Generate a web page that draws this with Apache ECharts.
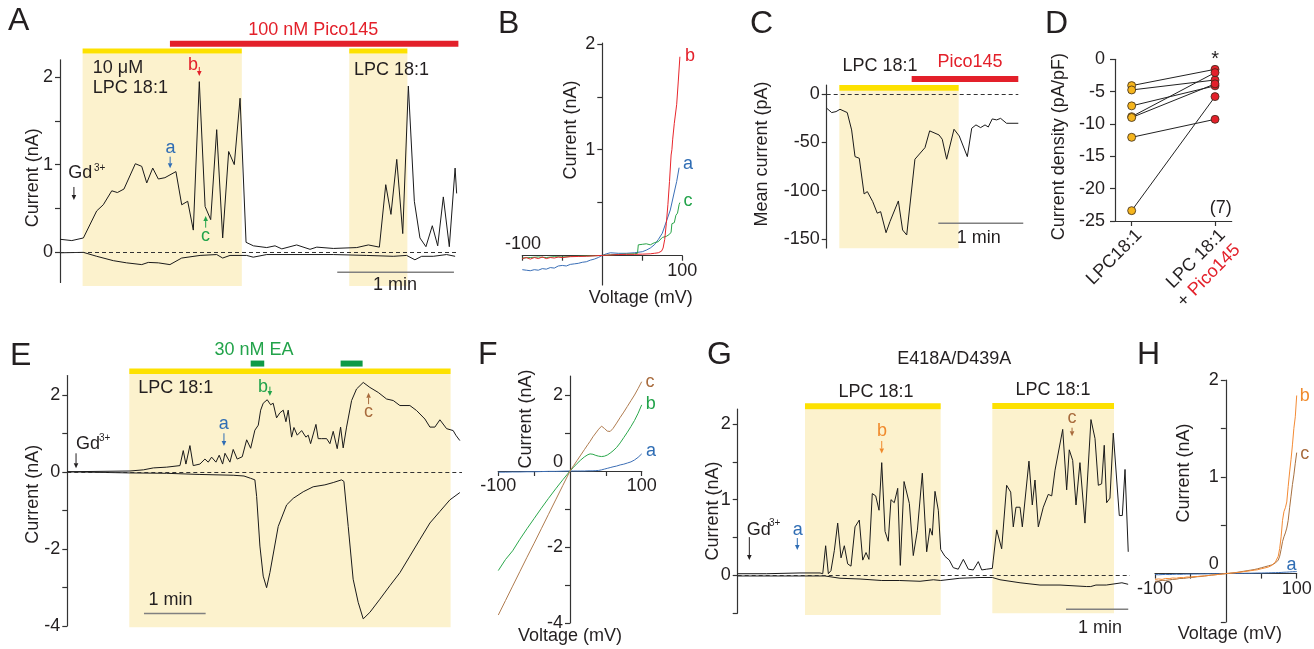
<!DOCTYPE html>
<html><head><meta charset="utf-8">
<script src="https://cdn.jsdelivr.net/npm/echarts@6/dist/echarts.min.js"></script>
<style>html,body{margin:0;padding:0;background:#fff;}#c{width:1314px;height:649px;}</style>
</head><body><div id="c"></div>
<script>
// ---------------- DATA ----------------
// Panel A: time (s), current (nA)
const aTime = [0,6.1,12.1,19.0,22.4,26.8,29.7,33.1,39.0,42.3,44.9,48.0,50.9,54.3,60.0,63.0,66.1,69.0,72.1,75.1,78.0,81.1,84.2,87.3,90.2,93.2,96.3,100.1,107.0,111.3,114.8,122.5,129.4,132.9,141.5,153.6,159.6,165.3,168.6,171.3,174.3,177.4,180.3,183.4,186.3,189.4,192.7,195.5,198.4,201.5,204.5,205.3];
const aOutward = [0.145,0.13,0.16,0.47,0.54,0.70,0.68,0.72,1.01,0.98,0.79,0.96,0.835,0.85,0.92,0.54,0.58,0.25,1.95,0.52,0.37,1.40,0.16,1.15,1.0,1.76,0.11,0.07,0.05,0.07,0.035,0.08,0.03,0.055,0.04,0.05,0.08,0.055,0.77,0.43,1.06,0.21,1.90,0.58,0.16,0.06,0.30,0.07,0.63,0.06,0.96,0.67];
const aTimeIn = [0,12.1,19,27.6,34.5,42.3,45.7,50.9,56.9,63,72.5,81.1,84.2,88,96.6,100,107,124.2,141.5,158.7,172.5,179.4,183.7,187.2,193.2,200.1,204.5];
const aInward = [-0.01,-0.005,-0.05,-0.1,-0.125,-0.145,-0.12,-0.125,-0.145,-0.07,-0.04,-0.03,-0.07,-0.04,-0.04,-0.06,-0.03,-0.03,-0.03,-0.04,-0.05,-0.04,-0.09,-0.05,-0.05,-0.03,-0.05];
const aYTicks = [0,0.5,1,1.5,2], aYLabels = [0,1,2];

// Panel B: I-V curves (mV, nA)
const bVb = [-100,-95,-90,-85,-80,-75,-70,-65,-60,-55,-50,-40,-30,-20,-10,0,10,20,30,40,50,60,65,70,72,74,76,78,80,82,84,86,87,88,90,91,93,95,97];
const bIb = [-0.03,-0.02,-0.035,-0.02,-0.03,-0.015,-0.03,-0.02,-0.025,-0.015,-0.02,-0.012,-0.01,-0.008,-0.004,0,0.004,0.008,0.01,0.01,0.012,0.015,0.02,0.025,0.03,0.04,0.07,0.15,0.3,0.48,0.7,0.95,1.0,1.1,1.25,1.31,1.43,1.65,1.88];
const bVa = [-100,-95,-90,-85,-80,-75,-70,-65,-60,-55,-50,-45,-40,-35,-30,-25,-20,-15,-10,-5,0,5,10,20,30,40,50,55,60,65,70,75,80,85,90,93,96];
const bIa = [-0.135,-0.14,-0.145,-0.135,-0.14,-0.125,-0.13,-0.115,-0.12,-0.1,-0.095,-0.1,-0.085,-0.08,-0.075,-0.065,-0.06,-0.045,-0.035,-0.02,0,0.015,0.025,0.02,0.02,0.025,0.035,0.05,0.07,0.1,0.15,0.21,0.32,0.43,0.6,0.7,0.83];
const bVc = [-100,-90,-80,-70,-60,-50,-40,-30,-20,-10,0,10,20,30,40,44,45,50,55,60,65,70,75,80,84,86,87,90,92,94,96,97];
const bIc = [-0.025,-0.02,-0.015,-0.02,-0.012,-0.015,-0.01,-0.008,-0.005,-0.003,0,0.005,0.01,0.012,0.015,0.02,0.1,0.105,0.11,0.1,0.12,0.13,0.17,0.18,0.2,0.22,0.3,0.31,0.38,0.4,0.48,0.5];

// Panel C: mean current (pA) vs time (s)
const cTime = [0,3.5,6.6,9.4,14.5,17.6,20,23,26.4,28.7,32.5,35.7,38.1,41.9,44.7,50.6,53.6,56.5,62.3,69.4,72.7,79.3,81.6,84.7,89.9,93.6,99.3,102.4,105.4,108.7,111.8,114.1,116.9,120,122.8,127,135.3];
const cMean = [-14.5,-19,-18,-15.6,-19,-37,-64.7,-66.4,-103.4,-101,-111.4,-123.4,-121.8,-143.6,-132,-110.7,-140.8,-146,-67.4,-55.4,-38,-42.2,-46.7,-67.4,-36.3,-43.3,-64.7,-35.3,-31.8,-34.6,-31.8,-34,-25.6,-26.6,-25,-30.1,-30.1];
const cYTicks = [0,-50,-100,-150];

// Panel D: paired current densities (pA/pF)
const dCategories = ['LPC18:1', 'LPC 18:1', '+ ', 'Pico145'];
const dLpc  = [-4.07,-4.74,-7.2,-8.87,-9.0,-12.06,-23.4];
const dPico = [-1.55,-3.2,-4.1,-2.06,-3.8,-9.28,-5.77];

// Panel E: time (s), current (nA)
const eTime = [0,61,74,83.7,96.7,109.6,112.8,115.4,119.3,122.5,129,133.9,137.1,140.4,144.6,147.8,151.1,153.4,158.2,161.4,165.3,170.2,174.5,178.4,182.5,185.8,188.1,190.6,194.5,197.8,200.3,203.6,206.8,210.1,212.7,214.9,218.2,220.5,223.7,228,232.1,234.4,236.7,241.9,244.1,247.4,252.3,255.5,258.7,262.6,265.9,268.4,271.7,276.6,281.4,287.9,294.4,302.5,310.6,317.1,323.6,333.3,339.8,347.9,352.8,357.6,362.5,369,375.4,378,381.9];
const eOutward = [0,0.02,0.05,0.1,0.12,0.16,0.55,0.2,0.68,0.16,0.2,0.33,0.25,0.38,0.25,0.43,0.2,0.48,0.25,0.58,0.33,0.39,0.83,0.61,1.08,1.21,1.6,1.78,1.87,1.74,1.78,1.4,1.53,1.6,1.3,1.6,0.9,1.15,0.95,1.07,0.9,0.95,0.73,1.23,0.86,0.86,0.86,0.73,1.05,0.6,1.16,0.62,1.16,1.85,2.15,2.32,2.19,2.06,1.89,1.85,1.72,1.72,1.59,1.37,1.16,1.16,1.35,1.12,1.07,0.95,0.81];
const eTimeIn = [0,61,96.7,129,161.4,171.9,178.4,182.5,184.2,187.4,190.6,193.9,197.1,205.2,213.4,219.8,229.5,239.2,250.6,258.7,266.8,269.1,273.3,278.1,283,287.9,294.4,304.1,313.8,323.6,333.3,343,352.8,362.5,372.2,381.9];
const eInward = [0,-0.03,-0.04,-0.07,-0.09,-0.11,-0.17,-0.21,-0.64,-1.93,-2.71,-3.01,-2.62,-1.42,-0.86,-0.69,-0.52,-0.39,-0.34,-0.28,-0.21,-0.25,-1.42,-2.79,-3.39,-3.82,-3.65,-3.31,-2.96,-2.62,-2.19,-1.76,-1.33,-1.03,-0.73,-0.54];

// Panel F: I-V (mV, nA)
const fV  = [-100,-90,-80,-70,-60,-50,-40,-30,-20,-10,0,5,10,15,20,25,28,32,36,40,44,48,52,56,60,65,70,75,80,85,90,95,100];
const fIc = [-3.79,-3.41,-3.03,-2.65,-2.27,-1.9,-1.52,-1.14,-0.76,-0.38,0,0.14,0.28,0.42,0.56,0.7,0.78,0.9,1.0,1.1,1.18,1.12,1.05,1.04,1.12,1.26,1.41,1.55,1.7,1.85,2.0,2.17,2.35];
const fIb = [-2.62,-2.33,-2.1,-1.8,-1.52,-1.25,-0.98,-0.72,-0.47,-0.23,0,0.1,0.2,0.29,0.37,0.43,0.45,0.44,0.41,0.39,0.38,0.39,0.42,0.47,0.53,0.62,0.74,0.88,1.02,1.17,1.33,1.52,1.74];
const fIa = [-0.03,-0.03,-0.025,-0.025,-0.02,-0.02,-0.015,-0.01,-0.01,-0.005,0,0,0,0,0,0.005,0.005,0.005,0.01,0.015,0.03,0.05,0.07,0.09,0.11,0.13,0.16,0.18,0.21,0.24,0.29,0.36,0.45];

// Panel G: time (s), current (nA)
const gTime = [0,27.9,60,79.3,81.9,84.7,87.3,89.8,93.1,96.3,99.5,102.7,105.9,109.1,113,117.1,120.4,123.6,126.4,129.6,132.9,136.1,138.7,141.9,145,147.6,150.8,154.1,156.6,160.2,165.3,169.1,173,177.8,182,185.2,187.4,190,193.2,195.5,199.6,203.8,207.6,212.4,217.3,222.1,226.9,231.7,235,239.8,245.2,246.1,249.4,254.2,259,262.9,265.4,268,271.9,274.1,280.5,283.7,286.3,289.5,294.3,299.1,302.4,305.6,313,316.8,319.3,322.6,325.8,329.6,334.4,340.2,344.1,347.3,350.5,353,355.3,358.5,361.7,367.5,370.4,373,376.1];
const gOutward = [0.02,0.02,0.03,0.03,0.02,0.39,0.02,0.06,0.33,0.69,0.23,0.39,0.15,0.12,0.64,0.73,0.2,0.3,0.21,1.08,1.05,0.86,1.49,0.58,0.45,1.0,0.96,1.15,0.13,1.24,0.95,0.26,0.59,1.35,0.31,0.62,0.53,1.11,0.86,0.34,0.25,0.2,0.1,0.08,0.21,0.08,0.07,0.18,0.07,0.08,0.09,0.2,0.6,0.35,1.19,1.1,0.64,0.9,0.9,0.64,1.51,0.93,1.26,0.64,0.9,1.07,1.05,1.39,1.93,1.13,1.66,1.52,0.93,1.49,0.69,2.06,1.81,1.19,1.21,1.72,0.96,1.02,1.88,0.79,0.79,1.4,0.31];
const gTimeIn = [0,84,98.5,117.8,138.7,156,175.6,188.4,195.5,214,233.4,245.2,252.6,271.9,291.1,310.4,336.1,340,345,355,370,376];
const gInward = [-0.01,-0.01,-0.04,-0.05,-0.07,-0.07,-0.08,-0.06,-0.07,-0.04,-0.03,-0.03,-0.06,-0.1,-0.13,-0.13,-0.15,-0.15,-0.13,-0.13,-0.1,-0.12];

// Panel H: I-V (mV, nA)
const hV  = [-100,-95,-90,-85,-80,-75,-70,-65,-60,-55,-50,-45,-40,-35,-30,-25,-20,-15,-10,-5,0,5,10,15,20,25,30,35,40,45,50,55,60,65,70,72,74,76,78,80,82,84,86,88,90,92,94,96,98,100];
const hIb = [-0.06,-0.055,-0.06,-0.05,-0.052,-0.045,-0.048,-0.04,-0.042,-0.035,-0.036,-0.03,-0.03,-0.025,-0.024,-0.02,-0.015,-0.012,-0.008,-0.004,0,0.003,0.006,0.01,0.014,0.02,0.024,0.03,0.035,0.04,0.05,0.058,0.068,0.085,0.12,0.14,0.18,0.26,0.38,0.55,0.64,0.68,0.74,0.9,1.05,1.18,1.33,1.5,1.62,1.84];
const hIc = [-0.08,-0.075,-0.07,-0.07,-0.065,-0.06,-0.058,-0.05,-0.05,-0.045,-0.04,-0.038,-0.032,-0.03,-0.025,-0.02,-0.016,-0.012,-0.008,-0.004,0,0.004,0.008,0.012,0.018,0.024,0.03,0.036,0.042,0.05,0.06,0.07,0.08,0.09,0.11,0.12,0.14,0.18,0.25,0.33,0.38,0.42,0.47,0.55,0.68,0.8,0.92,1.02,1.14,1.25];
const hIa = [-0.01,-0.012,-0.01,-0.008,-0.01,-0.008,-0.006,-0.008,-0.006,-0.005,-0.005,-0.004,-0.004,-0.003,-0.003,-0.002,-0.002,-0.001,-0.001,0,0,0.001,0.002,0.002,0.003,0.003,0.004,0.004,0.005,0.006,0.006,0.007,0.008,0.009,0.01,0.01,0.011,0.012,0.012,0.013,0.014,0.015,0.015,0.016,0.017,0.018,0.019,0.02,0.02,0.021];

// ---------------- STYLE ----------------
const FONT = '"Liberation Sans", Arial, Helvetica, sans-serif';
const TXT = '#231f20', AX = '#333333';
const SHADE = '#fcf2cd', YEL = '#fde100', RED = '#e3202a', GBAR = '#0f9a47';
const BLUE = '#2f6db4', GREEN = '#22a34a', BROWN = '#a86b3d', ORANGE = '#f08a2c', DYEL = '#f5b51d';

function zip(xs, ys) { return xs.map((x, i) => [x, ys[i]]); }

function trace(gi, xs, ys, color, zero) {
  const s = {type: 'line', xAxisIndex: gi, yAxisIndex: gi, data: zip(xs, ys), symbol: 'none', showSymbol: false,
    lineStyle: {color: color, width: 1}, itemStyle: {color: color}, z: 3, silent: true, animation: false};
  if (zero) s.markLine = {silent: true, symbol: ['none', 'none'], label: {show: false}, animation: false,
    lineStyle: {color: AX, type: [4, 3], width: 1}, data: [{yAxis: 0}]};
  return s;
}

function annot(gi, list, z) {
  return {
    type: 'custom', xAxisIndex: gi, yAxisIndex: gi, silent: true, clip: false, z: z, animation: false,
    data: list.map(a => [a.x !== undefined ? a.x : a.x1, a.y !== undefined ? a.y : a.y1]),
    renderItem: function (params, api) {
      const a = list[params.dataIndex];
      if (a.k === 'shade') {
        const p1 = api.coord([a.x1, a.y2]), p2 = api.coord([a.x2, a.y1]);
        return {type: 'rect', shape: {x: p1[0], y: p1[1], width: p2[0] - p1[0], height: p2[1] - p1[1]}, style: {fill: a.c || SHADE}};
      }
      if (a.k === 'bar') {
        const p1 = api.coord([a.x1, a.y]), p2 = api.coord([a.x2, a.y]);
        return {type: 'rect', shape: {x: p1[0], y: p1[1] - a.h / 2, width: p2[0] - p1[0], height: a.h}, style: {fill: a.c}};
      }
      if (a.k === 'hline') {
        const p1 = api.coord([a.x1, a.y]), p2 = api.coord([a.x2, a.y]);
        return {type: 'line', shape: {x1: p1[0], y1: p1[1], x2: p2[0], y2: p2[1]}, style: {stroke: a.c || '#808080', lineWidth: a.w || 1.5}};
      }
      if (a.k === 'text') {
        const p = api.coord([a.x, a.y]);
        return {type: 'text', x: p[0], y: p[1], style: {text: a.t, fill: a.c || TXT, fontSize: a.s || 18, fontFamily: FONT,
          align: a.al || 'center', verticalAlign: 'middle', textAlign: a.al || 'center', textVerticalAlign: 'middle'}};
      }
      if (a.k === 'arrow') {
        const p = api.coord([a.x, a.y]);
        const d = a.up ? -1 : 1, hh = 5, hw = 2.3;
        return {type: 'group', children: [
          {type: 'line', shape: {x1: p[0], y1: p[1] - d * a.len, x2: p[0], y2: p[1] - d * hh}, style: {stroke: a.c || TXT, lineWidth: 1}},
          {type: 'polygon', shape: {points: [[p[0], p[1]], [p[0] - hw, p[1] - d * hh], [p[0] + hw, p[1] - d * hh]]}, style: {fill: a.c || TXT}}
        ]};
      }
      return null;
    }
  };
}

// y axis; offset < 0 moves the axis into the grid (used to put it on V = 0)
function yAx(gi, min, max, ticks, labels, name, gap, pad, offset, fmt, rich, margin) {
  const lbl = {show: true, customValues: labels, fontSize: 18, color: TXT, fontFamily: FONT, margin: margin || 7};
  if (fmt) lbl.formatter = fmt;
  if (rich) lbl.rich = rich;
  return {gridIndex: gi, type: 'value', min: min, max: max, position: 'left', offset: offset || 0,
    axisLine: {show: true, onZero: false, lineStyle: {color: AX, width: 1.2}},
    axisTick: {show: true, customValues: ticks, length: 5, lineStyle: {color: AX, width: 1.2}},
    axisLabel: lbl, splitLine: {show: false}, minorTick: {show: false}, minorSplitLine: {show: false},
    name: name, nameLocation: 'middle', nameGap: gap, nameMoveOverlap: false,
    nameTextStyle: {fontSize: 18, color: TXT, fontFamily: FONT, padding: pad}};
}
function xHidden(gi, min, max) {
  return {gridIndex: gi, type: 'value', min: min, max: max, show: false, splitLine: {show: false}};
}
function xIV(gi, ticks, labels, name, gap, pad, offset) {
  return {gridIndex: gi, type: 'value', min: -100, max: 100, position: 'bottom', offset: offset,
    axisLine: {show: true, onZero: false, lineStyle: {color: AX, width: 1.2}},
    axisTick: {show: true, customValues: ticks, length: 5, lineStyle: {color: AX, width: 1.2}},
    axisLabel: {show: true, customValues: labels, fontSize: 18, color: TXT, fontFamily: FONT, margin: 6},
    splitLine: {show: false}, name: name, nameLocation: 'middle', nameGap: gap, nameMoveOverlap: false,
    nameTextStyle: {fontSize: 18, color: TXT, fontFamily: FONT, padding: pad}};
}

const zeroUp = (p) => ({z: {fontSize: 18, color: TXT, fontFamily: FONT, padding: [0, 0, p, 0]}});
const fmtZero = v => (v === 0 ? '{z|0}' : String(v));

// ---------------- ANNOTATIONS ----------------
const annA0 = [
  {k: 'shade', x1: 11.7, x2: 94.1, y1: -0.389, y2: 2.273},
  {k: 'shade', x1: 149.7, x2: 179.8, y1: -0.389, y2: 2.273}];
const annA = [
  {k: 'bar', x1: 11.7, x2: 94.1, y: 2.302, h: 5, c: YEL},
  {k: 'bar', x1: 149.7, x2: 179.8, y: 2.302, h: 5, c: YEL},
  {k: 'bar', x1: 56.9, x2: 206.2, y: 2.383, h: 6, c: RED},
  {k: 'text', x: 131.1, y: 2.54, t: '100 nM Pico145', c: RED},
  {k: 'text', x: 17.0, y: 2.11, t: '10 μM', al: 'left'},
  {k: 'text', x: 17.0, y: 1.88, t: 'LPC 18:1', al: 'left'},
  {k: 'text', x: 152.2, y: 2.08, t: 'LPC 18:1', al: 'left'},
  {k: 'text', x: 4.3, y: 0.90, t: 'Gd', al: 'left'},
  {k: 'text', x: 17.6, y: 0.96, t: '3+', al: 'left', s: 10},
  {k: 'arrow', x: 7.2, y: 0.595, len: 13},
  {k: 'text', x: 57.2, y: 1.19, t: 'a', c: BLUE},
  {k: 'arrow', x: 57.0, y: 0.958, len: 11.6, c: BLUE},
  {k: 'text', x: 68.8, y: 2.14, t: 'b', c: RED},
  {k: 'arrow', x: 72.1, y: 2.015, len: 9, c: RED},
  {k: 'text', x: 75.3, y: 0.183, t: 'c', c: GREEN},
  {k: 'arrow', x: 75.4, y: 0.412, len: 11.7, c: GREEN, up: true},
  {k: 'hline', x1: 143.5, x2: 203.9, y: -0.232},
  {k: 'text', x: 173.4, y: -0.378, t: '1 min'}];
const annB = [
  {k: 'text', x: -99.1, y: 0.11, t: '-100'},
  {k: 'text', x: 109.6, y: 1.89, t: 'b', c: RED},
  {k: 'text', x: 107, y: 0.86, t: 'a', c: BLUE},
  {k: 'text', x: 107, y: 0.51, t: 'c', c: GREEN}];
const annC0 = [{k: 'shade', x1: 8.9, x2: 93.2, y1: -159.8, y2: 3.8}];
const annC = [
  {k: 'bar', x1: 8.9, x2: 93.2, y: 6.7, h: 5.7, c: YEL},
  {k: 'bar', x1: 60, x2: 135.3, y: 15.8, h: 6, c: RED},
  {k: 'text', x: 37.6, y: 29.6, t: 'LPC 18:1'},
  {k: 'text', x: 101.2, y: 33.8, t: 'Pico145', c: RED},
  {k: 'hline', x1: 78.8, x2: 138.8, y: -133.9},
  {k: 'text', x: 107.4, y: -149.4, t: '1 min'}];
const annD = [
  {k: 'text', x: 1, y: 0.0, t: '*', s: 20},
  {k: 'text', x: 1.069, y: -23.04, t: '(7)'}];
const annE0 = [{k: 'shade', x1: 60.3, x2: 372.9, y1: -4.04, y2: 2.54}];
const annE = [
  {k: 'bar', x1: 60.3, x2: 372.9, y: 2.61, h: 5.7, c: YEL},
  {k: 'bar', x1: 178.4, x2: 191.6, y: 2.81, h: 6, c: GBAR},
  {k: 'bar', x1: 265.9, x2: 287.3, y: 2.81, h: 6, c: GBAR},
  {k: 'text', x: 181.6, y: 3.16, t: '30 nM EA', c: GREEN},
  {k: 'text', x: 69, y: 2.17, t: 'LPC 18:1', al: 'left'},
  {k: 'text', x: 8.5, y: 0.73, t: 'Gd', al: 'left'},
  {k: 'text', x: 30.8, y: 0.87, t: '3+', al: 'left', s: 10},
  {k: 'arrow', x: 8.5, y: 0.09, len: 15},
  {k: 'text', x: 152.1, y: 1.24, t: 'a', c: BLUE},
  {k: 'arrow', x: 152.4, y: 0.67, len: 12.7, c: BLUE},
  {k: 'text', x: 190.3, y: 2.21, t: 'b', c: GREEN},
  {k: 'arrow', x: 197.1, y: 1.97, len: 9.3, c: GREEN},
  {k: 'text', x: 293.1, y: 1.55, t: 'c', c: BROWN},
  {k: 'arrow', x: 293.1, y: 2.05, len: 11.3, c: BROWN, up: true},
  {k: 'hline', x1: 74.6, x2: 134.6, y: -3.68},
  {k: 'text', x: 100.4, y: -3.34, t: '1 min'}];
const annF = [
  {k: 'text', x: 111.6, y: 2.33, t: 'c', c: BROWN},
  {k: 'text', x: 112.6, y: 1.76, t: 'b', c: GREEN},
  {k: 'text', x: 113, y: 0.53, t: 'a', c: BLUE}];
const annG0 = [
  {k: 'shade', x1: 64.8, x2: 195.5, y1: -0.527, y2: 2.196},
  {k: 'shade', x1: 245.2, x2: 362.4, y1: -0.504, y2: 2.196}];
const annG = [
  {k: 'bar', x1: 64.8, x2: 195.5, y: 2.235, h: 6, c: YEL},
  {k: 'bar', x1: 245.2, x2: 362.4, y: 2.24, h: 6, c: YEL},
  {k: 'text', x: 208.6, y: 2.857, t: 'E418A/D439A'},
  {k: 'text', x: 133.2, y: 2.43, t: 'LPC 18:1'},
  {k: 'text', x: 303.6, y: 2.45, t: 'LPC 18:1'},
  {k: 'text', x: 8.7, y: 0.6, t: 'Gd', al: 'left'},
  {k: 'text', x: 30.1, y: 0.69, t: '3+', al: 'left', s: 10},
  {k: 'arrow', x: 11.2, y: 0.2, len: 23},
  {k: 'text', x: 57.8, y: 0.6, t: 'a', c: BLUE},
  {k: 'arrow', x: 57.4, y: 0.333, len: 12, c: BLUE},
  {k: 'text', x: 139, y: 1.91, t: 'b', c: ORANGE},
  {k: 'arrow', x: 138.7, y: 1.61, len: 12.6, c: ORANGE},
  {k: 'text', x: 322, y: 2.08, t: 'c', c: BROWN},
  {k: 'arrow', x: 322, y: 1.84, len: 8.5, c: BROWN},
  {k: 'hline', x1: 316.2, x2: 376.1, y: -0.451},
  {k: 'text', x: 349, y: -0.703, t: '1 min'}];
const annH = [
  {k: 'text', x: 111.5, y: 1.83, t: 'b', c: ORANGE},
  {k: 'text', x: 111.5, y: 1.24, t: 'c', c: BROWN},
  {k: 'text', x: 92.7, y: 0.089, t: 'a', c: BLUE}];

// ---------------- OPTION ----------------
const grids = [
  {left: 60, top: 59.8, width: 398, height: 222.7},
  {left: 522.3, top: 43, width: 160, height: 242},
  {left: 826.7, top: 85, width: 191.6, height: 163},
  {left: 1115, top: 59.3, width: 116.7, height: 161.7},
  {left: 67.3, top: 375.5, width: 394.7, height: 250.3},
  {left: 498.3, top: 376, width: 143.4, height: 247},
  {left: 737.7, top: 409, width: 392.3, height: 204},
  {left: 1155, top: 380, width: 141.7, height: 242}
].map(g => Object.assign({show: false, containLabel: false, outerBoundsMode: 'none'}, g));

const dRich = {k: {fontSize: 18, color: TXT, fontFamily: FONT, lineHeight: 21}, r: {fontSize: 18, color: RED, fontFamily: FONT, lineHeight: 21}};
const xAxes = [
  xHidden(0, 0, 206),
  xIV(1, [-100, -50, 50, 100], [100], 'Voltage (mV)', 33, [0, 0, 0, 77], -29.3),
  xHidden(2, 0, 135.3),
  {gridIndex: 3, type: 'value', min: -0.2, max: 1.2, position: 'bottom',
    axisLine: {show: true, onZero: false, lineStyle: {color: AX, width: 1.2}},
    axisTick: {show: true, customValues: [0, 1], length: 5, lineStyle: {color: AX, width: 1.2}},
    axisLabel: {show: true, customValues: [0, 1], rotate: 45, margin: 4, verticalAlign: 'top', fontSize: 18, color: TXT, fontFamily: FONT,
      formatter: v => (v === 0 ? '{k|' + dCategories[0] + '}' : '{k|' + dCategories[1] + '}\n{k|' + dCategories[2] + '}{r|' + dCategories[3] + '}'),
      rich: dRich},
    splitLine: {show: false}},
  xHidden(4, 0, 384),
  xIV(5, [-100, -50, 50, 100], [-100, 100], 'Voltage (mV)', 156, [0, 0, 0, 0], -152),
  xHidden(6, 0, 377.8),
  xIV(7, [-100, -50, 50, 100], [-100, 100], 'Voltage (mV)', 51, [0, 0, 0, 8], -48.4)
];
const yAxes = [
  yAx(0, -0.35, 2.2, aYTicks, aYLabels, 'Current (nA)', 18, [0, 13, 0, 0], 0),
  yAx(1, -0.28, 2.01, [0.5, 1, 1.5, 2], [1, 2], 'Current (nA)', 22, [0, 0, 0, 68], -80),
  yAx(2, -159.5, 9.6, cYTicks, cYTicks, 'Mean current (pA)', 56, [0, 0, 0, 25], 0),
  yAx(3, -25, 0, [0, -5, -10, -15, -20, -25], [0, -5, -10, -15, -20, -25], 'Current density (pA/pF)', 47, [0, 13, 0, 0], 0, null, null, 10),
  yAx(4, -4, 2.5, [-4, -3, -2, -1, 0, 1, 2], [-4, -2, 0, 2], 'Current (nA)', 25, [0, 0, 0, 13], 0),
  yAx(5, -4, 2.5, [-4, -3, -2, -1, 1, 2], [-4, -2, 0, 2], 'Current (nA)', 35, [0, 0, 0, 161], -71.7, fmtZero, zeroUp(17)),
  yAx(6, -0.5, 2.2, [-0.5, 0, 0.5, 1, 1.5, 2], [0, 1, 2], 'Current (nA)', 16, [0, 0, 0, 0], 0),
  yAx(7, -0.5, 2.0, [-0.5, 0.5, 1, 1.5, 2], [0, 1, 2], 'Current (nA)', 33, [0, 0, 0, 56], -70.85, fmtZero, zeroUp(20))
];

const dSeries = dLpc.map((v, i) => ({
  type: 'line', xAxisIndex: 3, yAxisIndex: 3, silent: true, animation: false, z: 3,
  data: [{value: [0, v], itemStyle: {color: DYEL}}, {value: [1, dPico[i]], itemStyle: {color: RED}}],
  symbol: 'circle', symbolSize: 8, showSymbol: true,
  lineStyle: {color: '#222', width: 1}, itemStyle: {borderColor: '#3a2a1a', borderWidth: 0.8}
}));

const series = [
  annot(0, annA0, 1), annot(2, annC0, 1), annot(4, annE0, 1), annot(6, annG0, 1),
  trace(0, aTime, aOutward, '#1a1a1a', true), trace(0, aTimeIn, aInward, '#1a1a1a', false),
  trace(1, bVa, bIa, '#3a6fb7'), trace(1, bVc, bIc, '#2aa449'), trace(1, bVb, bIb, '#e8262c'),
  trace(2, cTime, cMean, '#1a1a1a', true),
  ...dSeries,
  trace(4, eTime, eOutward, '#1a1a1a', true), trace(4, eTimeIn, eInward, '#1a1a1a', false),
  trace(5, fV, fIa, '#3d6fb6'), trace(5, fV, fIb, '#2ba84c'), trace(5, fV, fIc, '#b07c50'),
  trace(6, gTime, gOutward, '#1a1a1a', true), trace(6, gTimeIn, gInward, '#1a1a1a', false),
  trace(7, hV, hIa, '#3a6db4'), trace(7, hV, hIc, '#a8703f'), trace(7, hV, hIb, '#f48b35'),
  annot(0, annA, 5), annot(1, annB, 5), annot(2, annC, 5), annot(3, annD, 5),
  annot(4, annE, 5), annot(5, annF, 5), annot(6, annG, 5), annot(7, annH, 5)
];

const letters = [['A', 8, 21], ['B', 498, 24], ['C', 750, 24], ['D', 1045, 24], ['E', 10, 356], ['F', 478, 355], ['G', 707, 355], ['H', 1137, 355]];
const graphic = letters.map(l => ({type: 'text', x: l[1], y: l[2], silent: true,
  style: {text: l[0], fontSize: 32, fontFamily: FONT, fill: TXT, align: 'left', verticalAlign: 'middle'}}));

const chart = echarts.init(document.getElementById('c'), null, {renderer: 'canvas'});
chart.setOption({animation: false, backgroundColor: '#ffffff', textStyle: {fontFamily: FONT},
  grid: grids, xAxis: xAxes, yAxis: yAxes, series: series, graphic: graphic});
</script></body></html>
